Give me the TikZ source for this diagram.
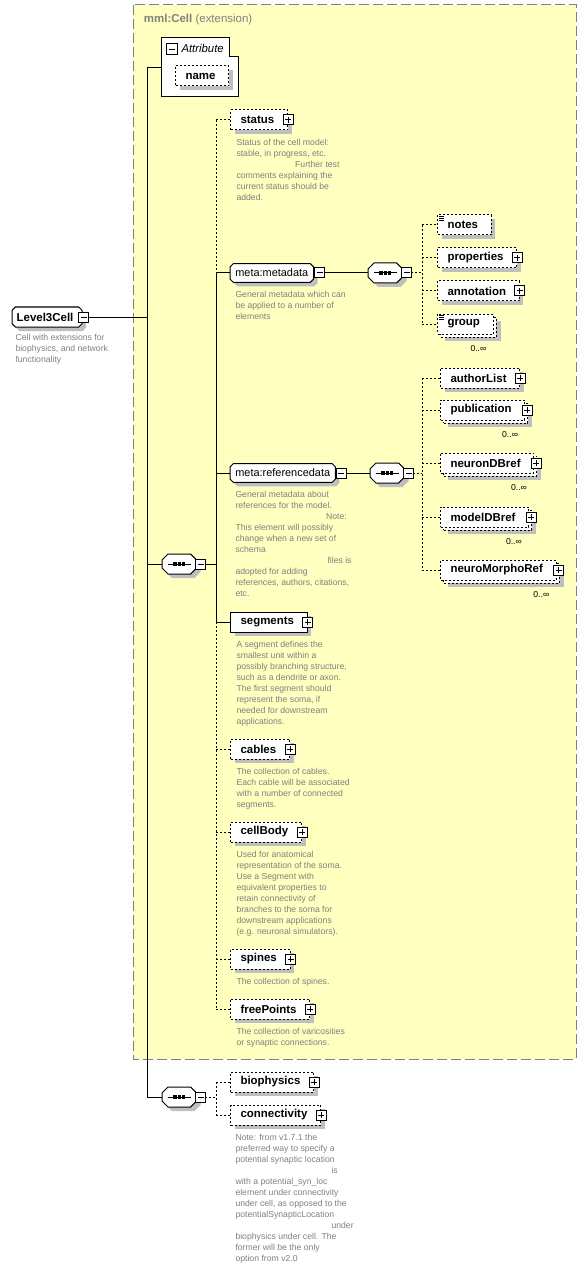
\documentclass[tikz,border=0pt]{standalone}
\usepackage{fontspec}
\setmainfont{Liberation Sans}
\usetikzlibrary{calc, positioning, shadows}

\definecolor{extyellow}{RGB}{255,255,192}
\definecolor{extframe}{RGB}{128,128,128}
\definecolor{docgray}{RGB}{128,128,128}

% rectangle with cut corners
\makeatletter
\newdimen\chamferlen
\pgfkeys{/pgf/chamfer len/.initial=3pt}
\pgfdeclareshape{cutbox}{%
  \inheritsavedanchors[from=rectangle]%
  \inheritanchorborder[from=rectangle]%
  \inheritanchor[from=rectangle]{center}%
  \inheritanchor[from=rectangle]{north}%
  \inheritanchor[from=rectangle]{south}%
  \inheritanchor[from=rectangle]{east}%
  \inheritanchor[from=rectangle]{west}%
  \inheritanchor[from=rectangle]{north east}%
  \inheritanchor[from=rectangle]{north west}%
  \inheritanchor[from=rectangle]{south east}%
  \inheritanchor[from=rectangle]{south west}%
  \backgroundpath{%
    \pgfmathsetlength\chamferlen{\pgfkeysvalueof{/pgf/chamfer len}}%
    \southwest \pgf@xa=\pgf@x \pgf@ya=\pgf@y
    \northeast \pgf@xb=\pgf@x \pgf@yb=\pgf@y
    \pgf@xc=\pgf@xa \advance\pgf@xc by \chamferlen
    \pgfpathmoveto{\pgfqpoint{\pgf@xc}{\pgf@yb}}%
    \pgf@xc=\pgf@xb \advance\pgf@xc by -\chamferlen
    \pgfpathlineto{\pgfqpoint{\pgf@xc}{\pgf@yb}}%
    \pgf@yc=\pgf@yb \advance\pgf@yc by -\chamferlen
    \pgfpathlineto{\pgfqpoint{\pgf@xb}{\pgf@yc}}%
    \pgf@yc=\pgf@ya \advance\pgf@yc by \chamferlen
    \pgfpathlineto{\pgfqpoint{\pgf@xb}{\pgf@yc}}%
    \pgf@xc=\pgf@xb \advance\pgf@xc by -\chamferlen
    \pgfpathlineto{\pgfqpoint{\pgf@xc}{\pgf@ya}}%
    \pgf@xc=\pgf@xa \advance\pgf@xc by \chamferlen
    \pgfpathlineto{\pgfqpoint{\pgf@xc}{\pgf@ya}}%
    \pgf@yc=\pgf@ya \advance\pgf@yc by \chamferlen
    \pgfpathlineto{\pgfqpoint{\pgf@xa}{\pgf@yc}}%
    \pgf@yc=\pgf@yb \advance\pgf@yc by -\chamferlen
    \pgfpathlineto{\pgfqpoint{\pgf@xa}{\pgf@yc}}%
    \pgfpathclose
  }%
}
\makeatother

% small expand / collapse boxes and the text icon
\newcommand\plusmark[2][0]{%
  \draw[markbox] ($(#2.east)+(#1-5,-5)$) rectangle ($(#2.east)+(#1+5,5)$);
  \draw ($(#2.east)+(#1-3,0)$) -- ($(#2.east)+(#1+3,0)$)
        ($(#2.east)+(#1,-3)$) -- ($(#2.east)+(#1,3)$);}
\newcommand\minusmark[2]{%
  \draw[markbox] ($(#1.east)+(#2-5,-5)$) rectangle ($(#1.east)+(#2+5,5)$);
  \draw ($(#1.east)+(#2-3,0)$) -- ($(#1.east)+(#2+3,0)$);}
\newcommand\textmark[1]{%
  \foreach \k in {0,2,4}
    \draw[line width=0.5pt] ($(#1.north west)+(2,2+\k)$) -- ++(5,0);}

\begin{document}
\begin{tikzpicture}[
    x=0.75pt, y=-0.75pt, line width=0.75pt,
    every node/.style={font=\fontsize{8.6}{10.5}\selectfont},
    box/.style={draw, fill=white, anchor=west, inner xsep=7.5pt, inner ysep=0pt,
        minimum height=15pt, font=\bfseries\fontsize{8.6}{10.5}\selectfont,
        execute at end node={\hspace{2.5pt}}},
    shadowed/.style={drop shadow={fill=black!25, opacity=1, shadow xshift=3pt, shadow yshift=-3pt}},
    req/.style={box, shadowed},
    opt/.style={box, shadowed, dash pattern=on 1.5pt off 1.5pt},
    multi/.style={box, dash pattern=on 1.5pt off 1.5pt,
        general shadow={fill=black!25, shadow xshift=5.5pt, shadow yshift=-5.5pt},
        general shadow={draw, fill=white, dash pattern=on 1.5pt off 1.5pt,
            shadow xshift=2.25pt, shadow yshift=-2.25pt}},
    typed/.style={draw, fill=white, shadowed, anchor=west, shape=cutbox,
        chamfer len=2.5pt, outer sep=0pt, inner xsep=4pt, inner ysep=0pt,
        minimum height=14pt, font=\fontsize{8.2}{10}\selectfont},
    seq/.style={typed, chamfer len=4.5pt, minimum width=26pt,
        minimum height=15pt, inner sep=0pt,
        path picture={
            \draw ([xshift=4.5pt]path picture bounding box.west) -- ([xshift=-4.5pt]path picture bounding box.east);
            \draw[line width=2.4pt, dash pattern=on 2.4pt off 0.9pt]
                ([xshift=-4.5pt]path picture bounding box.center) -- ([xshift=4.5pt]path picture bounding box.center);
        }},
    desc/.style={anchor=north west, inner sep=0pt, align=left, text=docgray,
        font=\fontsize{6.5}{8.25}\selectfont},
    occurs/.style={anchor=north east, inner sep=0pt, font=\fontsize{6.5}{8}\selectfont},
    conn/.style={draw},
    dconn/.style={draw, dash pattern=on 1.5pt off 1.5pt},
    markbox/.style={draw, fill=white, solid},
]
\useasboundingbox (0,0) rectangle (586,1269);

% Extension frame
\draw[fill=extyellow, draw=extframe, dash pattern=on 7.5pt off 3pt] (133,5) rectangle (576,1059);
\node[anchor=west, text=extframe] (ext) at (139,20) {\textbf{mml:Cell} (extension)};

% Attribute group
\draw[fill=white] (161,38) -- (229,38) -- (229,57) -- (238,57) -- (238,97) -- (161,97) -- cycle;
\draw[markbox] (166,44) rectangle (177,55);
\draw (168.5,49.5) -- (174.5,49.5);
\node[anchor=west, inner sep=0pt, font=\itshape\fontsize{8.5}{10}\selectfont] (attrtitle) at (181,48) {Attribute};
\node[opt] (name) at (175,76) {name};
\coordinate (attr) at (161,68);

% Root element
\node[typed, font=\bfseries\fontsize{8.6}{10.5}\selectfont, inner xsep=3.5pt,
    minimum height=15pt, execute at end node={\hspace{3pt}}] (cell) at (12,317) {Level3Cell};
\node[desc] (cell-d) at ($(cell.south -| cell.west)+(3,7)$)
    {Cell with extensions for\\biophysics, and network\\functionality};

% Branch points
\coordinate (trunk) at (147,0);
\coordinate (br) at (216,0);
\coordinate (brmeta) at (422,0);

% Sequences
\node[seq] (seq1) at (162,564) {};
\node[seq] (seq2) at (162,1097) {};
\node[seq] (seqmeta) at (368,273) {};
\node[seq] (seqref) at (370,473) {};

% Main sequence
\node[opt] (status) at (230,120) {status};
\node[desc] (status-d) at ($(status.south -| status.west)+(6,8)$)
    {Status of the cell model:\\stable, in progress, etc.\\\hspace*{44pt}Further test\\comments explaining the\\current status should be\\added.};
\node[typed] (meta) at (230,273) {meta:metadata};
\node[desc] (meta-d) at ($(meta.south -| meta.west)+(5,8)$)
    {General metadata which can\\be applied to a number of\\elements};
\node[typed] (refdata) at (230,473) {meta:referencedata};
\node[desc] (refdata-d) at ($(refdata.south -| refdata.west)+(5,8)$)
    {General metadata about\\references for the model.\\\hspace*{68pt}Note:\\This element will possibly\\change when a new set of\\schema\\\hspace*{69pt}files is\\adopted for adding\\references, authors, citations,\\etc.};
\node[req] (segments) at (230,622) {segments};
\node[desc] (segments-d) at ($(segments.south -| segments.west)+(6,8)$)
    {A segment defines the\\smallest unit within a\\possibly branching structure,\\such as a dendrite or axon.\\The first segment should\\represent the soma, if\\needed for downstream\\applications.};
\node[opt] (cables) at (230,749) {cables};
\node[desc] (cables-d) at ($(cables.south -| cables.west)+(6,8)$)
    {The collection of cables.\\Each cable will be associated\\with a number of connected\\segments.};
\node[opt] (cellbody) at (230,832) {cellBody};
\node[desc] (cellbody-d) at ($(cellbody.south -| cellbody.west)+(6,8)$)
    {Used for anatomical\\representation of the soma.\\Use a Segment with\\equivalent properties to\\retain connectivity of\\branches to the soma for\\downstream applications\\(e.g. neuronal simulators).};
\node[opt] (spines) at (230,959) {spines};
\node[desc] (spines-d) at ($(spines.south -| spines.west)+(6,8)$)
    {The collection of spines.};
\node[opt] (freepts) at (230,1009) {freePoints};
\node[desc] (freepts-d) at ($(freepts.south -| freepts.west)+(6,8)$)
    {The collection of varicosities\\or synaptic connections.};

% Metadata choices
\node[opt] (notes) at (437,225) {notes};
\node[opt] (props) at (437,258) {properties};
\node[opt] (annot) at (437,291) {annotation};
\node[multi] (group) at (437,324) {group};
\node[occurs] (group-o) at ($(group.south east)+(-7,10)$) {0..∞};

% Reference data
\node[opt] (authors) at (440,378) {authorList};
\node[multi] (pub) at (440,410) {publication};
\node[occurs] (pub-o) at ($(pub.south east)+(-7,10)$) {0..∞};
\node[multi] (neurondb) at (440,463) {neuronDBref};
\node[occurs] (neurondb-o) at ($(neurondb.south east)+(-7,10)$) {0..∞};
\node[multi] (modeldb) at (440,517) {modelDBref};
\node[occurs] (modeldb-o) at ($(modeldb.south east)+(-7,10)$) {0..∞};
\node[multi] (morpho) at (440,570) {neuroMorphoRef};
\node[occurs] (morpho-o) at ($(morpho.south east)+(-7,10)$) {0..∞};

% Outside the extension
\node[opt] (biophys) at (230,1082) {biophysics};
\node[opt] (connect) at (230,1115) {connectivity};
\node[desc] (connect-d) at ($(connect.south -| connect.west)+(5,8)$)
    {Note: from v1.7.1 the\\preferred way to specify a\\potential synaptic location\\\hspace*{72pt}is\\with a potential\_syn\_loc\\element under connectivity\\under cell, as opposed to the\\potentialSynapticLocation\\\hspace*{72pt}under\\biophysics under cell. The\\former will be the only\\option from v2.0};

% Edges
\draw[conn] (cell.east) -- (cell.east -| trunk);
\draw[conn] (attr) -| (trunk |- seq2.west) -- (seq2.west);
\draw[conn] (trunk |- seq1.west) -- (seq1.west);
\draw[conn] (seq1.east) -- (seq1.east -| br);
\draw[dconn] (br |- status.west) -- (br |- meta.west);
\draw[conn] (br |- meta.west) -- (br |- segments.west);
\draw[dconn] (br |- segments.west) -- (br |- freepts.west);
\foreach \n in {meta,refdata,segments}
    \draw[conn] (br |- \n.west) -- (\n.west);
\foreach \n in {status,cables,cellbody,spines,freepts}
    \draw[dconn] (br |- \n.west) -- (\n.west);
\draw[conn] (meta.east) -- (seqmeta.west);
\draw[dconn] (seqmeta.east) -- (seqmeta.east -| brmeta);
\draw[dconn] (brmeta |- notes.west) -- (brmeta |- group.west);
\foreach \n in {notes,props,annot,group}
    \draw[dconn] (brmeta |- \n.west) -- (\n.west);
\draw[conn] (refdata.east) -- (seqref.west);
\draw[dconn] (seqref.east) -- (seqref.east -| brmeta);
\draw[dconn] (brmeta |- authors.west) -- (brmeta |- morpho.west);
\foreach \n in {authors,pub,neurondb,modeldb,morpho}
    \draw[dconn] (brmeta |- \n.west) -- (\n.west);
\draw[dconn] (seq2.east) -- (seq2.east -| br);
\draw[dconn] (br |- biophys.west) -- (br |- connect.west);
\foreach \n in {biophys,connect}
    \draw[dconn] (br |- \n.west) -- (\n.west);

% Expand / collapse marks
\minusmark{cell}{1.5}
\foreach \n in {seq1,seq2,seqmeta,seqref}
    {\minusmark{\n}{4}}
\minusmark{meta}{6}
\minusmark{refdata}{6}
\foreach \n in {status,segments,cables,cellbody,spines,freepts,biophys,connect,props,annot,authors}
    {\plusmark{\n}}
\foreach \n in {pub,neurondb,modeldb,morpho}
    {\plusmark[2]{\n}}
\textmark{notes}
\textmark{group}
\end{tikzpicture}
\end{document}
